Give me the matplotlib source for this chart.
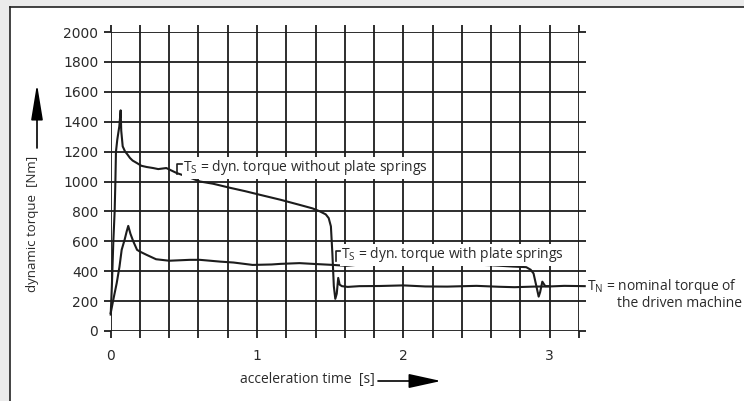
import numpy as np
import matplotlib
matplotlib.use("Agg")
import matplotlib.pyplot as plt
from matplotlib.patches import Rectangle
from matplotlib.lines import Line2D

# dynamic torque without plate springs
t_without = [0.0, 0.008, 0.018, 0.027, 0.032, 0.036, 0.045, 0.059, 0.068, 0.072, 0.082,
             0.098, 0.115, 0.132, 0.15, 0.178, 0.21, 0.246, 0.29, 0.325, 0.38, 0.45,
             0.53, 0.61, 0.7, 0.815, 0.92, 1.02, 1.16, 1.29, 1.38, 1.43, 1.47, 1.49,
             1.505, 1.515, 1.525, 1.535, 1.545, 1.555, 1.565, 1.58, 1.62, 1.7, 1.84,
             2.0, 2.15, 2.3, 2.5, 2.65, 2.76, 2.89, 3.0, 3.1, 3.24]
T_without = [110, 300, 600, 800, 1000, 1200, 1280, 1370, 1476, 1340, 1235,
             1201, 1180, 1157, 1140, 1124, 1105, 1097, 1090, 1083, 1090, 1057,
             1030, 1000, 985, 958, 935, 911, 878, 844, 820, 800, 780, 755,
             700, 520, 300, 215, 250, 355, 310, 300, 295, 300, 301,
             305, 298, 297, 302, 296, 293, 297, 298, 302, 300]

# dynamic torque with plate springs
t_with = [0.0, 0.02, 0.041, 0.06, 0.075, 0.095, 0.109, 0.12, 0.135, 0.155, 0.18,
          0.2, 0.246, 0.31, 0.4, 0.54, 0.61, 0.75, 0.84, 0.97, 1.1, 1.16, 1.29,
          1.4, 1.52, 1.61, 1.75, 1.9, 2.02, 2.1, 2.18, 2.4, 2.6, 2.75, 2.84,
          2.87, 2.89, 2.91, 2.925, 2.935, 2.95, 2.97, 3.0]
T_with = [120, 220, 320, 430, 543, 610, 665, 703, 650, 598, 543,
          531, 509, 480, 470, 476, 476, 464, 458, 442, 445, 449, 454,
          448, 442, 436, 449, 445, 465, 460, 442, 448, 440, 431, 427,
          410, 385, 297, 230, 260, 330, 300, 300]

x_ticks = [0, 1, 2, 3]
y_ticks = list(range(0, 2001, 200))

ink = "#1c1c1c"
txt = "#2a2a2a"

fig = plt.figure(figsize=(7.44, 4.01), dpi=100)
fig.patch.set_facecolor("#ebebeb")
fig.add_artist(Rectangle((10 / 744, 0), 1, (401 - 7) / 401, transform=fig.transFigure,
                         facecolor="white", edgecolor="none", zorder=0))
fig.add_artist(Line2D([10 / 744, 1], [(401 - 7) / 401] * 2, transform=fig.transFigure,
                      color="#222222", lw=1.2))
fig.add_artist(Line2D([10 / 744] * 2, [0, (401 - 7) / 401], transform=fig.transFigure,
                      color="#222222", lw=1.2))

ax = fig.add_axes([110.7 / 744, (401 - 331) / 401, 468.2 / 744, 299 / 401])
ax.set_facecolor("none")
ax.set_xlim(0, 3.2)
ax.set_ylim(0, 2000)
for s in ax.spines.values():
    s.set_visible(False)

ax.set_xticks(x_ticks)
ax.set_xticks(np.arange(0, 3.21, 0.2), minor=True)
ax.set_yticks(y_ticks)
ax.grid(True, which="both", color=ink, lw=1.3)
ax.tick_params(which="both", direction="out", length=5, width=1.3, color=ink,
               top=True, right=True, labeltop=False, labelright=False)
ax.tick_params(axis="x", pad=8, labelsize=10, labelcolor=txt)
ax.tick_params(axis="y", pad=4, labelsize=10, labelcolor=txt)

ax.plot(t_without, T_without, color=ink, lw=1.5, clip_on=False, zorder=3)
ax.plot(t_with, T_with, color=ink, lw=1.5, clip_on=False, zorder=3)

afont = dict(family="Open Sans", fontsize=10, color=txt)
box = dict(facecolor="white", edgecolor="none", pad=1.0)

ax.text(0.495, 1092, r"$\mathregular{T_S}$ = dyn. torque without plate springs",
        va="center", ha="left", bbox=box, zorder=4, **afont)
ax.plot([0.455, 0.455, 0.49], [1050, 1120, 1120], color=ink, lw=1.2, zorder=5)
ax.text(1.575, 509, r"$\mathregular{T_S}$ = dyn. torque with plate springs",
        va="center", ha="left", bbox=box, zorder=4, **afont)
ax.plot([1.54, 1.54, 1.57], [470, 537, 537], color=ink, lw=1.2, zorder=5)
ax.text(3.255, 296, r"$\mathregular{T_N}$ = nominal torque of",
        va="center", ha="left", zorder=4, clip_on=False, **afont)
ax.text(3.462, 186, "the driven machine",
        va="center", ha="left", zorder=4, clip_on=False, **afont)

# axis labels with arrows
fig.text(240 / 744, (401 - 380) / 401, "acceleration time  [s]", ha="left", va="center",
         **afont)
ax.annotate("", xy=(441, 401 - 381), xytext=(378, 401 - 381), xycoords="figure pixels",
            arrowprops=dict(arrowstyle="-|>,head_length=1.0,head_width=0.22",
                            mutation_scale=20, color="black", lw=1.2, shrinkA=0, shrinkB=0))
fig.text(33 / 744, (401 - 224) / 401, "dynamic torque  [Nm]", ha="center", va="center",
         rotation=90, family="Open Sans", fontsize=9.5, color=txt)
ax.annotate("", xy=(37, 401 - 84), xytext=(37, 401 - 148), xycoords="figure pixels",
            arrowprops=dict(arrowstyle="-|>,head_length=1.1,head_width=0.18",
                            mutation_scale=20, color="black", lw=1.2, shrinkA=0, shrinkB=0))

fig.savefig("out.png", dpi=100, facecolor=fig.get_facecolor())
